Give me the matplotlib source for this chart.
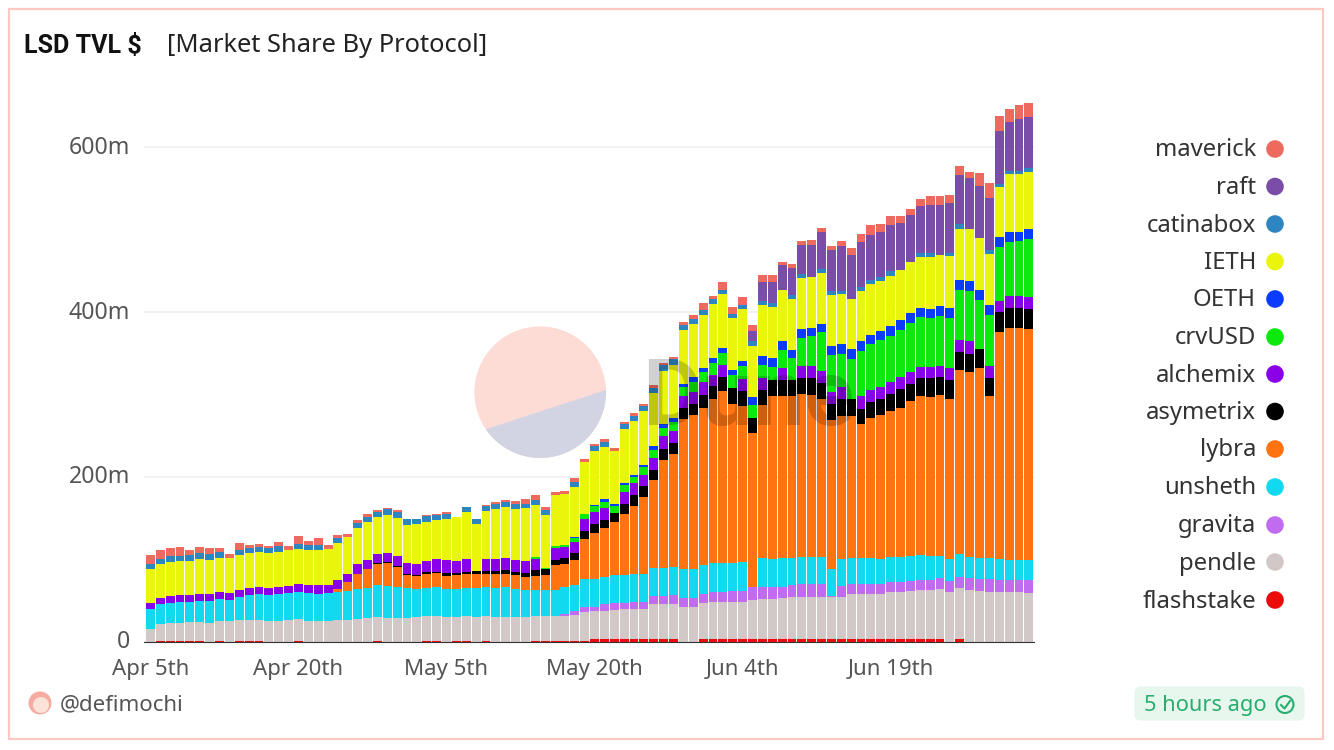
import matplotlib
matplotlib.use("Agg")
import numpy as np
import matplotlib.pyplot as plt
from matplotlib.patches import Circle, Polygon, FancyBboxPatch, Rectangle
from matplotlib.transforms import ScaledTranslation

plt.rcParams['font.family'] = ['Noto Sans', 'DejaVu Sans']

# values in millions of USD, one entry per day from Apr 5th
flashstake = [0, 1, 1, 1, 1, 1, 0, 1, 0, 1,
              1, 1, 0, 0, 0, 1, 0, 0, 0, 0,
              0, 0, 0, 1, 0, 0, 0, 0, 1, .5,
              0, .5, .5, 0, .5, 0, 0, 0, 0, .8,
              .8, 1, 1, 1, 1, 3, 3, 3, 3, 3,
              3, 3, 3, 3, 0, 0, 3.5, 3.5, 3.5, 3.5,
              3.5, 3.5, 3.5, 3.5, 3.5, 3.5, 3.5, 3.5, 3.5, 3.5,
              3.5, 3.5, 3.5, 3.5, 3.5, 3.5, 3.5, 3.5, 3.5, 3.5,
              3.5, 0, 3.5, 0, 0, 0, 0, 0, 0, 0]
pendle = [15, 20, 21.3, 21.7, 22.5, 22.9, 23.1, 23.7, 24.7, 24.9,
          24.9, 25.7, 25.5, 25.5, 25.9, 26.1, 24.7, 24.7, 24.7, 25.9,
          25.9, 27.1, 28.4, 29, 28.8, 28.8, 28.8, 29.6, 30.2, 30.3,
          29.6, 29.1, 30.3, 29.6, 30.3, 30, 30.4, 29.6, 29.6, 30.4,
          30.4, 30.2, 30.6, 31, 35.5, 34.3, 34.7, 35.5, 36.3, 36.3,
          36.3, 42.3, 42.3, 42.3, 42.5, 42.5, 43.1, 44.3, 44.3, 44.3,
          44.3, 47.1, 47.9, 47.9, 49.2, 51.2, 51.2, 51.2, 51.2, 51.2,
          50.4, 54.4, 54.4, 54.4, 54.4, 56.4, 56.8, 57.7, 59.3, 59.3,
          60.1, 60.3, 61.3, 62.8, 61.6, 60.3, 59.9, 59.9, 59.9, 59.5]
gravita = [0, 0, 0, 0, 0, 0, 0, 0, 0, 0,
           0, 0, 0, 0, 0, 0, 0, 0, 0, 0,
           0, 0, 0, 0, 0, 0, 0, 0, 0, 0,
           0, 0, 0, 0, 0, 0, 0, 0, 0, 0,
           0, 0, 2.4, 4.9, 5.3, 5.3, 8.1, 8.9, 8.1, 8.5,
           9.3, 10.1, 10.1, 10.9, 10.5, 10.5, 10.9, 12.2, 13, 14.2,
           14.2, 15.4, 15.4, 15.4, 14.2, 14.2, 15, 15, 15, 1.2,
           13.8, 12.2, 12.2, 12.2, 12.2, 13, 11.7, 12.6, 12.2, 12.2,
           13.4, 13.8, 14.2, 14.2, 14.6, 15.4, 15, 15, 15, 15.4]
unsheth = [24.3, 24.3, 25.1, 25.5, 25.1, 25.5, 25.9, 26.7, 26.3, 28.8,
           30.4, 31.2, 31.2, 32.4, 33.6, 32.8, 34, 33.6, 34, 34,
           35.6, 36.9, 36.9, 39.3, 39.3, 38.1, 36.5, 34.4, 34, 35.2,
           34.4, 34.4, 34.8, 36, 35.2, 35.2, 35.6, 34, 32.8, 32,
           32, 32, 32.4, 32.4, 34, 34, 32.4, 33.2, 34, 34,
           34, 34.4, 34.4, 34.4, 34.8, 34.8, 35.2, 35.2, 34.4, 34,
           34.8, 0, 34.4, 33.6, 34.4, 33.2, 33.6, 33.6, 32.8, 32,
           32.4, 32, 31.2, 31.2, 30, 30.4, 31.2, 29.6, 30, 29.2,
           27.1, 26.7, 27.5, 26.3, 25.9, 25.5, 25.1, 24.3, 24.3, 23.9]
lybra = [0, 0, 0, 0, 0, 0, 0, 0, 0, 0,
         0, 0, 0, 0, 0, 0, 0, 0, 0, 4.5,
         10.5, 18.2, 23.5, 25.1, 27.5, 24.3, 15.4, 16.2, 17, 17,
         16.2, 16.6, 16.2, 16.6, 16.6, 17, 16.6, 17, 16.6, 17,
         17.4, 29.6, 27.5, 30, 49.4, 55.9, 60.3, 65.2, 74.1, 83.4,
         93.6, 106, 131.2, 137.7, 182.3, 187.9, 191.2, 199.3, 209, 192.8,
         188.7, 186.7, 185.5, 197.2, 197.2, 196.4, 197.6, 196.4, 192.4, 180.6,
         174, 172.1, 162.8, 170.1, 175.4, 176.2, 180.2, 188.3, 192.8, 192.8,
         194.8, 194, 222.8, 224.4, 230.4, 196.4, 275.8, 281.5, 281.5, 281.1]
asymetrix = [0, 0, 0, 0, 0, 0, 0, 0, 0, 0,
             0, 0, 0, 0, 0, 0, 0, 0, 0, 0,
             0, 0, 0, 1.2, 1.2, 1.2, 1.6, 1.2, 2.4, 2,
             2.8, 2.4, 2.4, 3.6, 3.6, 4, 4.5, 4, 4.9, 6.5,
             7.3, 6.9, 7.3, 8.5, 9.3, 10.5, 9.7, 10.5, 11.7, 12.6,
             12.2, 13, 13.4, 13.4, 13.4, 13, 15.8, 15.4, 16.6, 19,
             18.6, 18.6, 18.6, 19.4, 19.4, 19.4, 19.4, 19.8, 19.4, 19.8,
             20.3, 20.7, 18.6, 19, 19.4, 21.1, 23.1, 21, 21.9, 22.7,
             22.3, 22.7, 22.7, 21.9, 23.1, 22.7, 23.9, 24.3, 24.3, 24.3]
alchemix = [8.1, 8.1, 8.5, 8.5, 8.5, 8.9, 8.9, 8.5, 8.5, 8.5,
            8.9, 8.5, 8.5, 8.5, 8.5, 9.7, 10.1, 10.5, 10.1, 10.5,
            10.5, 11.7, 10.9, 10.9, 11.3, 11.7, 13, 13, 13, 15,
            15.8, 15, 15.8, 0, 14.6, 14.6, 14.2, 14.6, 14.2, 14.2,
            0, 14.6, 13.8, 13.4, 14.2, 13.8, 14.6, 0, 15, 14.2,
            14.2, 14.6, 15, 14.2, 15, 14.6, 15, 14.2, 14.6, 0,
            14.2, 0, 15, 0, 14.2, 0, 14.6, 14.6, 14.6, 15,
            14.2, 0, 15, 14.6, 14.2, 14.2, 14.6, 14.2, 13.8, 13.8,
            13.8, 14.2, 14.6, 15, 0, 14.6, 13.4, 14.2, 14.2, 14.2]
crvusd = [0, 0, 0, 0, 0, 0, 0, 0, 0, 0,
          0, 0, 0, 0, 0, 0, 0, 0, 0, 0,
          0, 0, 0, 0, 0, 0, 0, 0, 0, 0,
          0, 0, 0, 0, 0, 0, 0, 0, 0, 1.6,
          1.2, 2.4, 2.8, 4.9, 5.7, 7.3, 7.3, 8.5, 8.1, 7.7,
          8.9, 9.7, 10.5, 11.3, 10.9, 11.7, 12.6, 13.8, 15, 15.4,
          15.8, 15.4, 15.4, 16.2, 22.3, 26, 34, 36.5, 47, 45,
          40.5, 48.6, 54.7, 56.7, 56.7, 56.7, 57.5, 59.9, 60.3, 59.5,
          59.9, 61.2, 59.9, 60.8, 59.5, 62, 65.6, 66, 66.8, 70.1]
oeth = [0, 0, 0, 0, 0, 0, 0, 0, 0, 0,
        0, 0, 0, 0, 0, 0, 0, 0, 0, 0,
        0, 0, 0, 0, 0, 0, 0, 0, 0, 0,
        0, 0, 0, 0, 0, 0, 0, 0, 0, 0,
        0, 0, 0, 1, 0, 2, 2.8, 2, 2.4, 3.2,
        3.2, 4, 4, 4, 3.6, 5.7, 5.3, 6.5, 6.5, 6.5,
        6.1, 10.5, 10.5, 10.5, 10.5, 10.5, 10.5, 10.1, 10.1, 10.9,
        12.2, 12.2, 12.2, 10.9, 11.3, 11.3, 12.2, 11.7, 11.3, 11.3,
        12.2, 12.2, 12.2, 12.2, 12.2, 12.2, 12.2, 12.2, 11.3, 12.6]
leth = [40.9, 40.5, 40.9, 40.9, 41.3, 42.1, 41.7, 41.7, 41.7, 41.7,
        42.1, 42.5, 42.5, 42.9, 42.9, 42.5, 42.9, 42.9, 44.1, 44.6,
        44.6, 44.1, 45, 45, 46.2, 46.6, 46.6, 48.2, 48.2, 47.8,
        49.8, 53.5, 57.1, 57.1, 57.5, 60.3, 61.6, 62.4, 63.6, 64,
        64.8, 61.2, 61.6, 60.3, 63.2, 64.8, 63.6, 65.2, 65.2, 64.8,
        64.8, 65.2, 65.2, 65.2, 65.2, 65.2, 64.4, 65.6, 65.6, 63.2,
        63.2, 62, 62, 62, 61.6, 61.6, 62, 61.6, 61.6, 61.2,
        60.8, 60.8, 60.8, 61.2, 61.2, 61.6, 60.8, 62, 61.6, 62.4,
        62.4, 62.8, 62.4, 62.8, 62.8, 61.6, 60.8, 69.7, 70.5, 69.3]
catinabox = [6.1, 6.9, 6.9, 6.9, 6.9, 7.3, 6.9, 6.9, 0, 6.1,
             6.1, 6.1, 6.5, 6.5, 0, 6.5, 6.1, 6.1, 0, 6.1,
             0, 6.1, 6.1, 6.1, 6.5, 6.1, 6.9, 6.5, 6.9, 6.1,
             6.1, 0, 6.1, 6.5, 6.5, 6.1, 6.1, 6.1, 5.7, 5.7,
             6.1, 0, 0, 6.1, 0, 6.1, 6.1, 0, 6.1, 6.1,
             6.1, 6.1, 6.1, 6.1, 6.1, 5.7, 5.7, 6.5, 4.9, 4.9,
             5.7, 5.3, 4.9, 5.3, 0, 5.3, 5.3, .8, 4.9, 4.9,
             4, 0, 5.3, 5.7, 4.5, 4.9, 0, 0, 5.3, 5.3,
             0, 4, 5.3, 0, 0, 4.5, 4, 4, 4, 4.5]
raft = [0, 0, 0, 0, 0, 0, 0, 0, 0, 0,
        0, 0, 0, 0, 0, 0, 0, 0, 0, 0,
        0, 0, 0, 0, 0, 0, 0, 0, 0, 0,
        0, 0, 0, 0, 0, 0, 0, 0, 0, 0,
        0, 0, 0, 0, 0, 0, 0, 0, 0, 0,
        0, 0, 0, 0, 0, 0, 0, 0, 0, 0,
        0, 12.2, 23.5, 25.5, 30.4, 32, 35.2, 38, 45, 50.6,
        53.9, 53, 54.3, 53.9, 54.7, 56.3, 56.7, 57.1, 56.7, 57.5,
        59.9, 59.9, 60.3, 62.4, 62.8, 62.8, 64, 59.9, 62.8, 62.4]
maverick = [10.9, 10.1, 9.7, 10.5, 6.5, 7.7, 7.3, 5.7, 4.9, 8.9,
            4, 3.2, 2.4, 5.3, 4.9, 9.7, 4.5, 8.1, 4.5, 4,
            3.6, 3.6, 4, 2.8, 1.2, 2.8, 0, 0, 1.6, 1.2,
            2.8, 0, 0, 0, .8, 2, 2.4, 2.8, 5.7, 5.3,
            3.6, 4, 4, 4.9, 3.6, 3.2, 3.2, 3.2, 2.4, 3.2,
            3.2, 2.8, 3.2, 3.2, 3.2, 5.3, 8.5, 3.6, 8.9, 8.5,
            8.9, 7.7, 8.1, 8.1, 4, 4.9, 4.9, 6.5, 4.9, 4.9,
            6.1, 7.7, 9.3, 11.7, 9.3, 10.9, 8.1, 8.1, 8.5, 11.7,
            11.7, 10.9, 10.1, 7.3, 16.2, 19, 18.2, 15.4, 16.2, 16.2]

# bottom to top of the stack
series_names = ['flashstake', 'pendle', 'gravita', 'unsheth', 'lybra', 'asymetrix', 'alchemix',
                'crvUSD', 'OETH', 'IETH', 'catinabox', 'raft', 'maverick']
series_values = [flashstake, pendle, gravita, unsheth, lybra, asymetrix, alchemix,
                 crvusd, oeth, leth, catinabox, raft, maverick]
series_colors = ['#ee0a0a', '#d2c8c8', '#c06bf0', '#12d8f0', '#ff7310', '#000000', '#8a00e8',
                 '#0de80d', '#0a3cff', '#e9f50a', '#2e86c1', '#7a4ea8', '#ee6a5f']

x_ticks = [0, 15, 30, 45, 60, 75]
x_labels = ['Apr 5th', 'Apr 20th', 'May 5th', 'May 20th', 'Jun 4th', 'Jun 19th']
y_ticks = [0, 200, 400, 600]
y_labels = ['0', '200m', '400m', '600m']

W, H = 1334, 750
fig = plt.figure(figsize=(W / 100, H / 100), dpi=100, facecolor='white')

# background layer in pixel coordinates (frame + logo circle)
bg = fig.add_axes([0, 0, 1, 1], zorder=0)
bg.set_xlim(0, W)
bg.set_ylim(H, 0)
bg.axis('off')
bg.add_patch(Rectangle((9, 9), 1314, 730, fill=False, ec='#fbc8c2', lw=1.6))
logo = Circle((540.2, 392.2), 65.8, fc='#fddcd5', ec='none')
bg.add_patch(logo)
chord = Polygon([(470, 434.5), (610, 388.6), (610, 470), (470, 470)], fc='#d3d4e3', ec='none')
bg.add_patch(chord)
chord.set_clip_path(logo)

# chart
base_y = 641.7
top_y = 90
px_per_m = 164.8 / 200
pitch = 9.87
left_px, right_px = 144, 1034
first_center = 150.4
ax = fig.add_axes([left_px / W, (H - base_y) / H, (right_px - left_px) / W, (base_y - top_y) / H],
                  zorder=1, facecolor='none')
ax.set_xlim((left_px - first_center) / pitch, (right_px - first_center) / pitch)
ax.set_ylim(0, (base_y - top_y) / px_per_m)

days = np.arange(len(pendle))
bottom = np.zeros(len(days))
for name, vals, col in zip(series_names, series_values, series_colors):
    vals = np.array(vals, dtype=float)
    ax.bar(days, vals, bottom=bottom, width=0.9, color=col, linewidth=0, label=name, zorder=2)
    bottom += vals

ax.set_yticks(y_ticks)
ax.set_yticklabels(y_labels)
ax.set_xticks(x_ticks)
ax.set_xticklabels(x_labels)
ax.tick_params(axis='both', length=0, labelsize=16, labelcolor='#555555')
ax.tick_params(axis='y', pad=10, labelsize=16.6)
ax.tick_params(axis='x', pad=12.5)
# nudge y labels up to sit where the reference has them
up = ScaledTranslation(0, 2.5 / 100, fig.dpi_scale_trans)
for lab in ax.get_yticklabels():
    lab.set_transform(lab.get_transform() + up)
ax.grid(axis='y', color='#efefef', lw=1.2, zorder=0)
ax.set_axisbelow(True)
for side in ['top', 'right', 'left']:
    ax.spines[side].set_visible(False)
ax.spines['bottom'].set_color('#333333')
ax.spines['bottom'].set_linewidth(0.8)

# top layer: watermark, titles, legend, footer
fg = fig.add_axes([0, 0, 1, 1], zorder=2, facecolor='none')
fg.set_xlim(0, W)
fg.set_ylim(H, 0)
fg.axis('off')
fg.text(642, 400, 'Dune', fontsize=66, fontweight='bold', color='black', alpha=0.18,
        family='Roboto', ha='left', va='center')

fg.text(24, 46, 'LSD TVL $', fontsize=18, fontweight='bold', color='#111111', va='center', family='Roboto')
fg.text(167, 46, '[Market Share By Protocol]', fontsize=18.35, color='#222222', va='center')

legend_y = [149, 186.5, 224, 261.5, 299, 337, 374, 411.5, 449, 487, 525, 562, 600]
for name, col, yy in zip(series_names[::-1], series_colors[::-1], legend_y):
    fg.text(1256, yy + 1.5, name, fontsize=17.2, color='#333333', ha='right', va='center')
    fg.add_patch(Circle((1275, yy), 8.8, fc=col, ec='none'))

# footer
fg.add_patch(Circle((40, 703), 11.5, fc='#f5aba2', ec='none'))
fg.add_patch(Circle((41, 705), 8, fc='#fbe3d8', ec='none'))
fg.text(60, 704.5, '@defimochi', fontsize=16, color='#555555', va='center')
fg.add_patch(FancyBboxPatch((1140, 692), 159, 23, boxstyle='round,pad=0,rounding_size=0',
                            fc='#e8f7ee', ec='#e8f7ee', lw=8, joinstyle='round'))
fg.text(1144, 706, '5 hours ago', fontsize=15.7, color='#27ae6f', va='center')
fg.add_patch(Circle((1285, 704.5), 8.5, fc='none', ec='#27ae6f', lw=1.5))
fg.plot([1281, 1284.5, 1290], [705, 708.5, 701], color='#27ae6f', lw=1.5)

fig.savefig('out.png', dpi=100)
